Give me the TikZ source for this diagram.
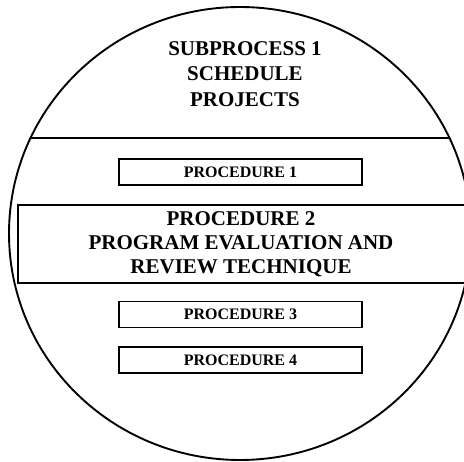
\documentclass[tikz,border=0pt]{standalone}
\usepackage{fontspec}
\setmainfont{Liberation Serif}
\begin{document}
\begin{tikzpicture}[x=1pt,y=-1pt,
  outline/.style={line width=1.9pt},
  procbox/.style={draw,line width=1.3pt,rectangle,minimum width=243pt,minimum height=26pt,inner sep=0pt,font=\bfseries\fontsize{16}{18}\selectfont},
  bigtext/.style={align=center,inner sep=0pt,font=\bfseries\fontsize{21}{24}\selectfont}]
\clip (0,0) rectangle (464,462);
% outer circle
\draw[outline] (240,233.5) ellipse [x radius=231pt, y radius=226.5pt];
% dividing line
\begin{scope}
  \clip (240,233.5) ellipse [x radius=231pt, y radius=226.5pt];
  \draw[line width=1.6pt] (0,138) -- (464,138);
\end{scope}
% title
\node[bigtext,font=\bfseries\fontsize{21}{25.5}\selectfont] (title) at (245,74) {SUBPROCESS 1\\SCHEDULE\\PROJECTS};
% procedure boxes
\node[procbox] (p1) at (240.5,172) {PROCEDURE 1};
\node[draw,line width=1.6pt,rectangle,minimum width=454pt,minimum height=78pt,inner sep=0pt] (p2box) at (245,244) {};
\node[bigtext] (p2) at (241,244) {PROCEDURE 2\\PROGRAM EVALUATION AND\\REVIEW TECHNIQUE};
\node[procbox] (p3) at (240.5,314.5) {PROCEDURE 3};
\node[procbox] (p4) at (240.5,360) {PROCEDURE 4};
\end{tikzpicture}
\end{document}
